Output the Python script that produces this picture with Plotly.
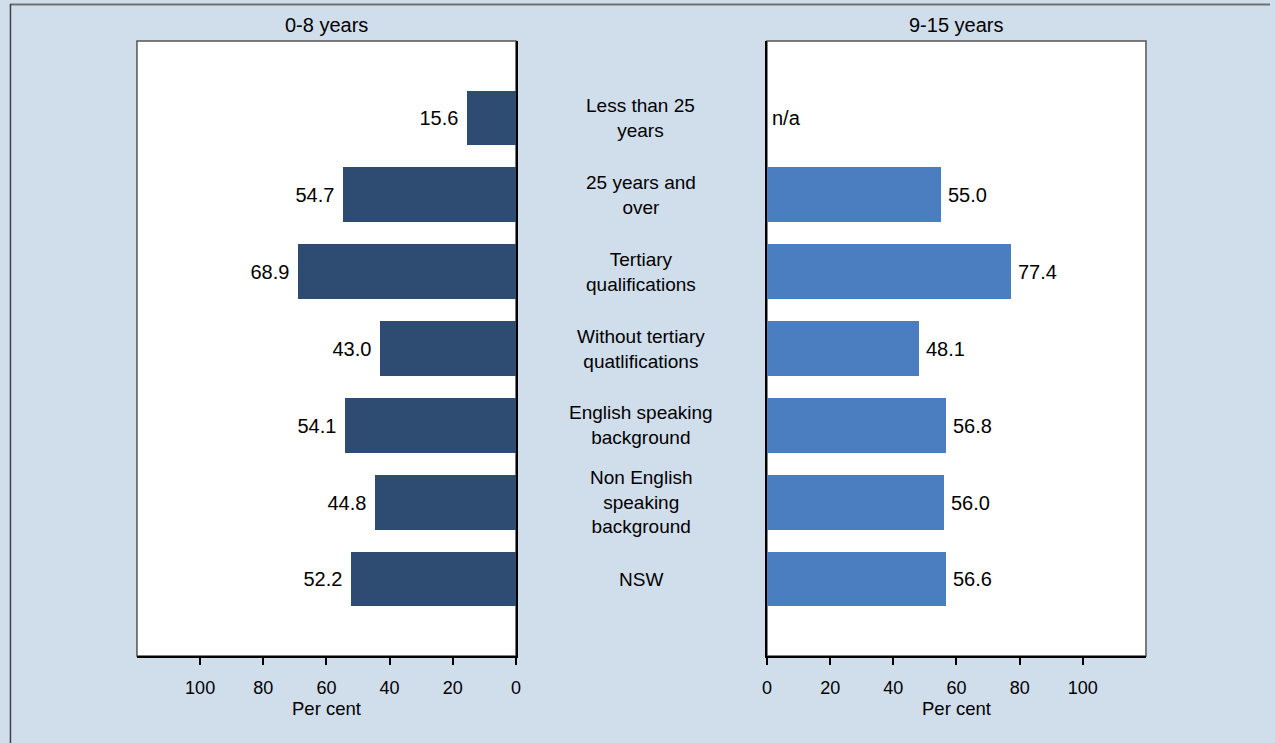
import plotly.graph_objects as go

categories = ["Less than 25<br>years", "25 years and<br>over", "Tertiary<br>qualifications",
              "Without tertiary<br>quatlifications", "English speaking<br>background",
              "Non English<br>speaking<br>background", "NSW"]
young_children = [15.6, 54.7, 68.9, 43.0, 54.1, 44.8, 52.2]   # 0-8 years
older_children = [None, 55.0, 77.4, 48.1, 56.8, 56.0, 56.6]   # 9-15 years
tick_vals = [0, 20, 40, 60, 80, 100]
panel_titles = ["0-8 years", "9-15 years"]
axis_title = "Per cent"

FONT = "Liberation Sans, Arial, sans-serif"
W, H = 1275, 743
BG = "#D0DEEC"
NAVY = "#2E4B72"
BLUE = "#4B7EC0"

L_X0, L_X1 = 133 / W, 515 / W
R_X0, R_X1 = 768 / W, 1150 / W
Y0, Y1 = 1 - 656 / H, 1 - 41 / H

fig = go.Figure()
fig.add_trace(go.Bar(
    x=young_children, y=categories, orientation="h", xaxis="x", yaxis="y",
    marker=dict(color=NAVY, line=dict(width=0)), width=0.71,
    texttemplate="%{x:.1f}\u00a0", textposition="outside", cliponaxis=False,
    textfont=dict(family=FONT, size=20, color="black"), showlegend=False))
fig.add_trace(go.Bar(
    x=older_children, y=categories, orientation="h", xaxis="x2", yaxis="y2",
    marker=dict(color=BLUE, line=dict(width=0)), width=0.71,
    texttemplate="\u2009%{x:.1f}", textposition="outside", cliponaxis=False,
    textfont=dict(family=FONT, size=20, color="black"), showlegend=False))

xcommon = dict(tickvals=tick_vals, ticks="outside", ticklen=7, tickwidth=2, tickcolor="black",
               showline=True, linecolor="black", linewidth=1.5, showgrid=False, zeroline=False,
               tickfont=dict(family=FONT, size=18, color="black"), ticklabelstandoff=8,
               title=dict(text=axis_title, font=dict(family=FONT, size=18.5, color="black"), standoff=2),
               fixedrange=True)
ycommon = dict(type="category", categoryorder="array", categoryarray=categories,
               range=[7, -1], showticklabels=False, ticks="", showgrid=False, zeroline=False,
               showline=True, linecolor="black", linewidth=1.5, domain=[Y0, Y1], fixedrange=True)

fig.update_layout(
    width=W, height=H, autosize=False, paper_bgcolor=BG, plot_bgcolor="white",
    margin=dict(l=0, r=0, t=0, b=0), bargap=0,
    xaxis=dict(domain=[L_X0, L_X1], range=[120, 0], anchor="y", **xcommon),
    yaxis=dict(anchor="x", side="right", **ycommon),
    xaxis2=dict(domain=[R_X0, R_X1], range=[0, 120], anchor="y2", **xcommon),
    yaxis2=dict(anchor="x2", side="left", **ycommon),
    font=dict(family=FONT, size=18, color="black"),
)

shapes = []
for x0, x1 in [(L_X0, L_X1), (R_X0, R_X1)]:
    shapes.append(dict(type="rect", xref="paper", yref="paper", x0=x0, x1=x1, y0=Y0, y1=Y1,
                       line=dict(color="#555555", width=1.5), layer="below"))
# outer frame (top and left visible)
shapes.append(dict(type="line", xref="paper", yref="paper", x0=5 / W, x1=1, y0=1 - 4.5 / H, y1=1 - 4.5 / H,
                   line=dict(color="#707070", width=2)))
shapes.append(dict(type="line", xref="paper", yref="paper", x0=5.5 / W, x1=5.5 / W, y0=0, y1=1 - 4 / H,
                   line=dict(color="#404040", width=1.5)))
fig.update_layout(shapes=shapes)

annotations = []
for cat in categories:
    annotations.append(dict(x=641 / W, xref="paper", y=cat, yref="y", text=cat, showarrow=False,
                            xanchor="center", yanchor="middle", align="center",
                            font=dict(family=FONT, size=19, color="black")))
for val, cat in zip(older_children, categories):
    if val is None:
        annotations.append(dict(x=0, xref="x2", y=cat, yref="y2", text="n/a", showarrow=False,
                                xanchor="left", xshift=3, yanchor="middle",
                                font=dict(family=FONT, size=20, color="black")))
annotations.append(dict(x=(L_X0 + L_X1) / 2, xref="paper", y=1 - 25 / H, yref="paper",
                        text=panel_titles[0], showarrow=False, xanchor="center", yanchor="middle",
                        font=dict(family=FONT, size=20, color="black")))
annotations.append(dict(x=(R_X0 + R_X1) / 2, xref="paper", y=1 - 25 / H, yref="paper",
                        text=panel_titles[1], showarrow=False, xanchor="center", yanchor="middle",
                        font=dict(family=FONT, size=20, color="black")))
fig.update_layout(annotations=annotations)

post = ("document.body.style.margin='0';document.body.style.padding='0';"
        "document.body.style.overflow='hidden';document.documentElement.style.overflow='hidden';")
fig.write_html("out.html", post_script=post, config={"displayModeBar": False})
